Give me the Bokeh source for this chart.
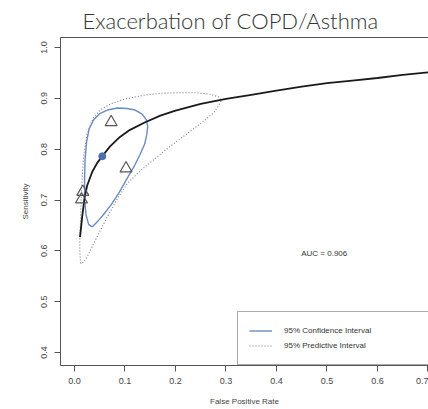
from bokeh.plotting import figure
from bokeh.models import Range1d, LinearAxis, FixedTicker, Label, Legend, LegendItem, Title, PrintfTickFormatter
from bokeh.embed import file_html
from bokeh.resources import INLINE

# SROC curve (False positive rate, sensitivity)
curve_fpr = [0.011, 0.015, 0.020, 0.025, 0.035, 0.045, 0.055, 0.070, 0.090, 0.110,
             0.140, 0.170, 0.200, 0.250, 0.300, 0.350, 0.400, 0.450, 0.500, 0.550,
             0.600, 0.650, 0.700, 0.730]
curve_sens = [0.627, 0.665, 0.705, 0.728, 0.755, 0.773, 0.786, 0.805, 0.824, 0.838,
              0.853, 0.866, 0.876, 0.889, 0.899, 0.907, 0.915, 0.923, 0.930, 0.935,
              0.940, 0.946, 0.951, 0.954]

# Individual studies
study_fpr = [0.0726, 0.102, 0.0165, 0.0139]
study_sens = [0.853, 0.762, 0.716, 0.701]

# Summary point
summary_fpr = [0.055]
summary_sens = [0.786]

# 95% confidence region
ci_fpr = [0.035, 0.028, 0.023, 0.020, 0.020, 0.021, 0.024, 0.029, 0.038, 0.050,
          0.065, 0.085, 0.104, 0.120, 0.134, 0.142, 0.145, 0.143, 0.139, 0.130,
          0.118, 0.104, 0.088, 0.072, 0.058, 0.046, 0.035]
ci_sens = [0.647, 0.652, 0.670, 0.700, 0.740, 0.780, 0.815, 0.840, 0.858, 0.870,
           0.877, 0.881, 0.880, 0.877, 0.869, 0.858, 0.845, 0.828, 0.810, 0.790,
           0.766, 0.742, 0.714, 0.690, 0.672, 0.658, 0.647]

# 95% predictive region
pi_fpr = [0.012, 0.0105, 0.0105, 0.012, 0.013, 0.015, 0.018, 0.025, 0.038, 0.052,
          0.071, 0.100, 0.137, 0.170, 0.203, 0.240, 0.269, 0.285, 0.291, 0.285,
          0.276, 0.253, 0.225, 0.190, 0.160, 0.131, 0.105, 0.085, 0.068, 0.051,
          0.036, 0.025, 0.017, 0.012]
pi_sens = [0.575, 0.600, 0.627, 0.660, 0.700, 0.740, 0.785, 0.830, 0.863, 0.878,
           0.889, 0.899, 0.906, 0.910, 0.911, 0.911, 0.908, 0.903, 0.896, 0.885,
           0.872, 0.853, 0.832, 0.806, 0.782, 0.758, 0.733, 0.703, 0.672, 0.640,
           0.610, 0.588, 0.577, 0.575]

x_ticks = [0.0, 0.1, 0.2, 0.3, 0.4, 0.5, 0.6, 0.7]
y_ticks = [0.4, 0.5, 0.6, 0.7, 0.8, 0.9, 1.0]
auc_text = "AUC = 0.906"
title_text = "Exacerbation of COPD/Asthma"

TICK_FONT = "Liberation Sans"
AXIS_COL = "#555555"
TEXT_COL = "#444444"

p = figure(width=428, height=409, output_backend="svg", toolbar_location=None,
           x_range=Range1d(-0.0277, 0.701), y_range=Range1d(0.3744, 1.0197),
           min_border_left=60, min_border_right=0, min_border_top=37,
           min_border_bottom=44, x_axis_location=None, y_axis_location=None)
p.grid.visible = False
p.outline_line_color = None
p.background_fill_color = "white"
p.border_fill_color = "white"

p.title = Title(text=title_text, align="left", text_font="Lato Light, Lato",
                text_font_size="22px", text_font_style="normal",
                text_color="#333333", offset=22, standoff=8, padding=0)

def style_axis(ax):
    ax.axis_line_color = AXIS_COL
    ax.major_tick_line_color = AXIS_COL
    ax.minor_tick_line_color = None
    ax.major_tick_in = 0
    ax.major_tick_out = 6
    ax.major_label_text_font = TICK_FONT
    ax.major_label_text_font_size = "9px"
    ax.major_label_text_color = TEXT_COL
    ax.axis_label_text_font = TICK_FONT
    ax.axis_label_text_font_size = "8px"
    ax.axis_label_text_font_style = "normal"
    ax.axis_label_text_color = TEXT_COL
    ax.formatter = PrintfTickFormatter(format="%.1f")

xa = LinearAxis(ticker=FixedTicker(ticks=x_ticks), axis_label="False Positive Rate")
style_axis(xa)
xa.major_label_standoff = 6
xa.axis_label_standoff = 10
p.add_layout(xa, "below")

ya = LinearAxis(ticker=FixedTicker(ticks=y_ticks), axis_label="Sensitivity")
style_axis(ya)
ya.major_label_orientation = "vertical"
ya.major_label_standoff = 7
ya.axis_label_standoff = 9
p.add_layout(ya, "left")

top = LinearAxis(ticker=FixedTicker(ticks=[]))
top.axis_line_color = AXIS_COL
top.major_tick_line_color = None
top.minor_tick_line_color = None
top.major_tick_out = 0
top.major_tick_in = 0
top.major_label_standoff = 0
top.major_label_text_font_size = "0px"
p.add_layout(top, "above")

pi_r = p.line(pi_fpr, pi_sens, line_color="#777777", line_width=1.1, line_dash="1 2")
ci_r = p.line(ci_fpr, ci_sens, line_color="#6b8cc2", line_width=1.4)
p.line(curve_fpr, curve_sens, line_color="#1a1a1a", line_width=1.8)
p.scatter(study_fpr, study_sens, marker="triangle", size=12, fill_color=None,
          line_color="#555555", line_width=1.2)
p.scatter(summary_fpr, summary_sens, marker="circle", size=7, fill_color="#4a6fb0",
          line_color="#4a6fb0")

p.add_layout(Label(x=0.449, y=0.5955, text=auc_text, text_font=TICK_FONT,
                   text_font_size="8px", text_color="#333333", text_baseline="middle"))

legend = Legend(items=[LegendItem(label="95% Confidence Interval", renderers=[ci_r]),
                       LegendItem(label="95% Predictive Interval", renderers=[pi_r])],
                location=(177, 0), padding=11, spacing=0, margin=0,
                glyph_width=23, glyph_height=15, label_height=15, label_width=200,
                label_standoff=12, label_text_font=TICK_FONT, label_text_font_size="8px",
                label_text_color="#333333", border_line_color=AXIS_COL,
                background_fill_alpha=1.0)
p.add_layout(legend, "center")

open("out.html", "w").write(file_html(p, INLINE))
